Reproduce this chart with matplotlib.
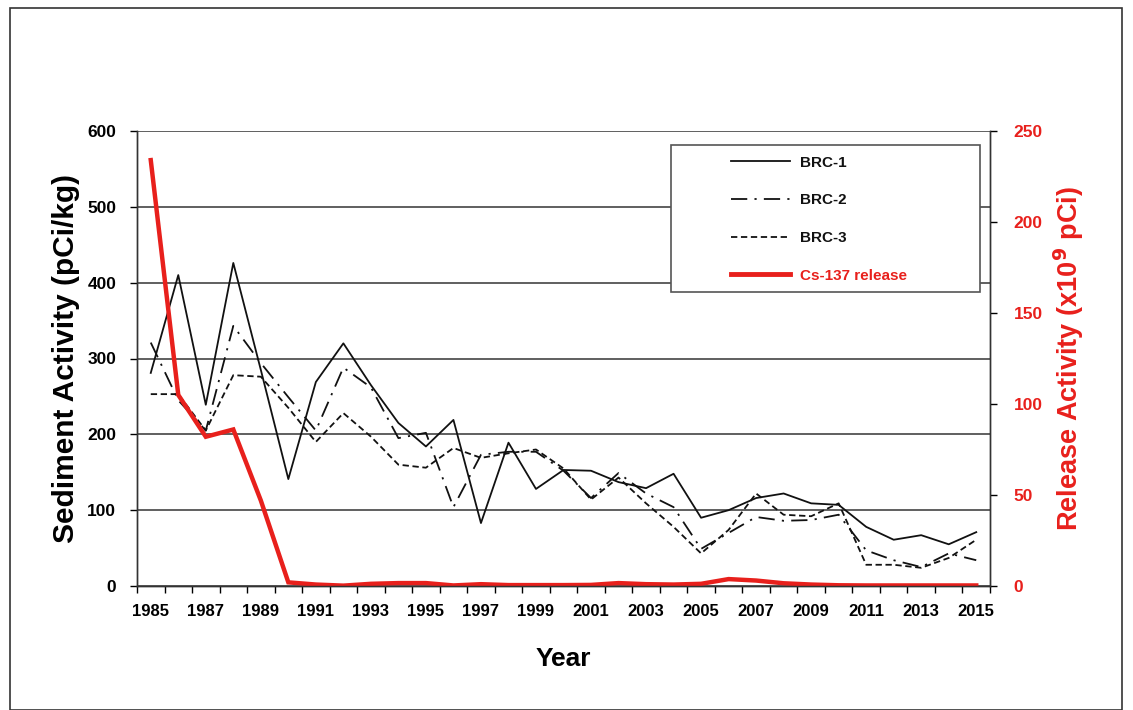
import matplotlib
matplotlib.use("Agg")
import matplotlib.pyplot as plt
from matplotlib.patches import Rectangle
from matplotlib.lines import Line2D
import numpy as np

plt.rcParams['font.family'] = ['Liberation Sans', 'DejaVu Sans']

years = list(range(1985, 2016))

brc1 = [281, 410, 239, 426, 285, 141, 269, 320, 265, 215, 184, 219, 83, 189, 128, 153,
        152, 137, 129, 148, 90, 100, 116, 122, 109, 107, 78, 61, 67, 55, 71]
brc2 = [321, 245, 205, 343, 294, 249, 205, 288, 262, 195, 202, 104, 173, 177, 177, 152,
        116, 149, 122, 104, 49, 70, 91, 86, 87, 94, 47, 34, 25, 43, 34]
brc3 = [253, 253, 205, 278, 276, 235, 190, 228, 197, 160, 156, 182, 169, 175, 180, 155,
        114, 143, 109, 78, 43, 74, 122, 94, 92, 109, 28, 28, 24, 37, 61]
cs137 = [234, 105, 82, 86, 47, 2, 0.8, 0.2, 1.2, 1.6, 1.6, 0.3, 1.0, 0.5, 0.5, 0.5,
         0.6, 1.6, 1.0, 0.8, 1.2, 3.8, 3.0, 1.5, 0.8, 0.4, 0.3, 0.3, 0.3, 0.3, 0.3]

left_ticks = [0, 100, 200, 300, 400, 500, 600]
right_ticks = [0, 50, 100, 150, 200, 250]
year_labels = [y for y in years if y % 2 == 1]

RED = '#e8201c'
INK = '#111111'

W, H = 1133, 710
fig = plt.figure(figsize=(W / 100, H / 100), dpi=100)
fig.patch.set_facecolor('white')

# page border around the figure
fig.add_artist(Rectangle((10 / W, 0), 1112 / W, 1 - 8 / H, transform=fig.transFigure,
                         fill=False, edgecolor='#333333', linewidth=1.2))

ax = fig.add_axes([137 / W, 1 - 586 / H, (990 - 137) / W, (586 - 131) / H])
ax2 = ax.twinx()

ax.set_xlim(1984.5, 2015.5)
ax.set_ylim(0, 600)
ax2.set_ylim(0, 250)

ax.yaxis.grid(True, color='#444444', linewidth=1.2)
ax.set_axisbelow(True)

ax.plot(years, brc1, color=INK, lw=1.3, label='BRC-1')
ax.plot(years, brc2, color=INK, lw=1.3, linestyle=(0, (9, 4, 1.2, 4)), label='BRC-2')
ax.plot(years, brc3, color=INK, lw=1.3, linestyle=(0, (3.5, 2)), label='BRC-3')
ax2.plot(years, cs137, color=RED, lw=3.2, solid_joinstyle='miter', label='Cs-137 release')

for a in (ax, ax2):
    a.spines['top'].set_visible(False)
    for s in ['left', 'right', 'bottom']:
        a.spines[s].set_color('#333333')
        a.spines[s].set_linewidth(1.0)

ax.set_yticks(left_ticks)
ax.set_yticklabels([str(t) for t in left_ticks], fontsize=12.5, fontweight='bold')
ax2.set_yticks(right_ticks)
ax2.set_yticklabels([str(t) for t in right_ticks], fontsize=12.5, fontweight='bold', color=RED)
ax.tick_params(axis='y', length=5, width=1, direction='out', pad=10)
ax2.tick_params(axis='y', length=5, width=1, direction='out', pad=12)

ax.set_xticks(year_labels)
ax.set_xticklabels([str(y) for y in year_labels], fontsize=12, fontweight='bold')
ax.set_xticks(np.arange(1984.5, 2016, 1.0), minor=True)
ax.tick_params(axis='x', which='major', length=0, pad=13)
ax.tick_params(axis='x', which='minor', length=5, width=1, direction='out')

ax.set_ylabel('Sediment Activity (pCi/kg)', fontsize=21.5, fontweight='bold', labelpad=5)
ax2.set_ylabel('Release Activity (x10$^{\\mathbf{9}}$ pCi)', fontsize=19.5, fontweight='bold',
               color=RED, labelpad=6)
ax.set_xlabel('Year', fontsize=19, fontweight='bold', labelpad=20)

# legend box
bx0, by0 = (671 - 137) / 853, (586 - 292) / 455
bw, bh = (980 - 671) / 853, (292 - 145) / 455
ax2.add_patch(Rectangle((bx0, by0), bw, bh, transform=ax2.transAxes, facecolor='white',
                        edgecolor='#555555', linewidth=1.2, zorder=5))
handles = [Line2D([], [], color=INK, lw=1.3),
           Line2D([], [], color=INK, lw=1.3, linestyle=(0, (9, 4, 1.2, 4))),
           Line2D([], [], color=INK, lw=1.3, linestyle=(0, (3.5, 2))),
           Line2D([], [], color=RED, lw=3.5)]
labels = ['BRC-1', 'BRC-2', 'BRC-3', 'Cs-137 release']
leg = ax2.legend(handles, labels, loc='upper left',
                 bbox_to_anchor=((717 - 137) / 853, (586 - 142) / 455),
                 frameon=False, fontsize=11, handlelength=3.9, handletextpad=0.65,
                 labelspacing=1.55, borderpad=0.4)
leg.set_zorder(6)
for t, c in zip(leg.get_texts(), [INK, INK, INK, RED]):
    t.set_color(c)
    t.set_fontweight('bold')

fig.savefig('out.png', dpi=100, facecolor='white')
